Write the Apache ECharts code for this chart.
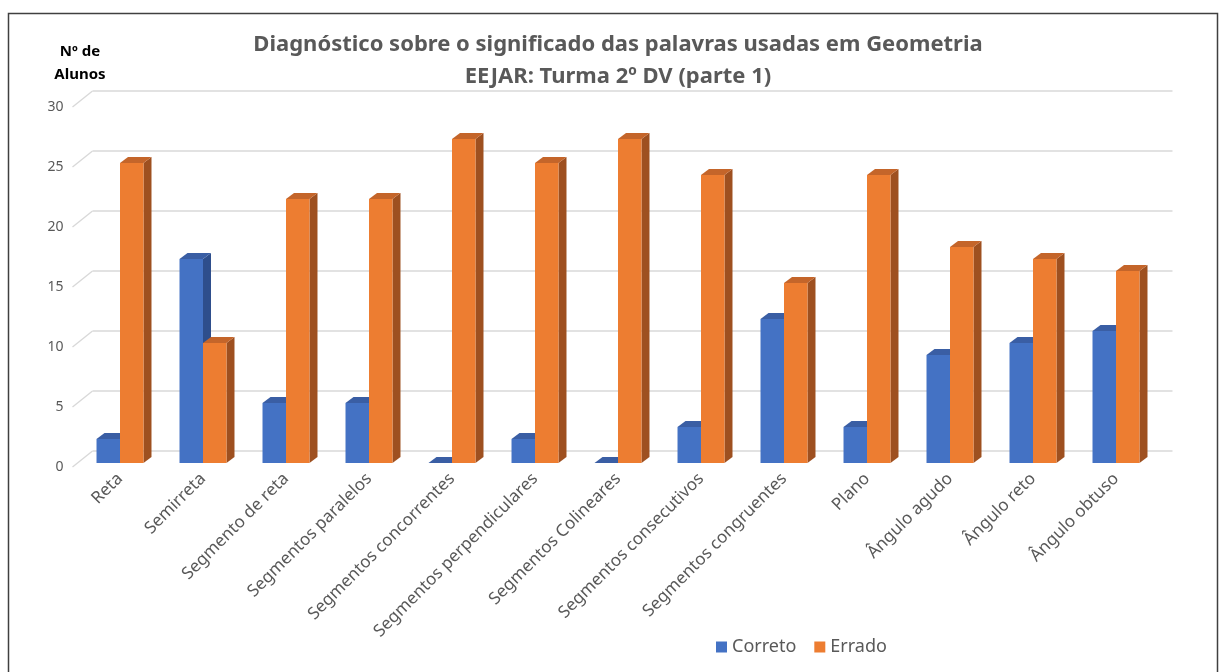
<!DOCTYPE html>
<html>
<head>
<meta charset="utf-8">
<script src="https://cdn.jsdelivr.net/npm/echarts@6/dist/echarts.min.js"></script>
<style>
html,body{margin:0;padding:0;background:#fff;}
#chart{width:1223px;height:672px;}
</style>
</head>
<body>
<div id="chart"></div>
<script>
var categories = ['Reta', 'Semirreta', 'Segmento de reta', 'Segmentos paralelos', 'Segmentos concorrentes', 'Segmentos perpendiculares', 'Segmentos Colineares', 'Segmentos consecutivos', 'Segmentos congruentes', 'Plano', 'Ângulo agudo', 'Ângulo reto', 'Ângulo obtuso'];
var correto = [2, 17, 5, 5, 0, 2, 0, 3, 12, 3, 9, 10, 11];
var errado = [25, 10, 22, 22, 27, 25, 27, 24, 15, 24, 18, 17, 16];
var yTicks = [0, 5, 10, 15, 20, 25, 30];

var FONT = '"Noto Sans", "Open Sans", sans-serif';
var DX = 8, DY = -6;       // bar depth
var WDX = 20, WDY = -16;   // wall depth
var BAR_FRAC = 0.283;

function barRender(colors, offsetSide) {
  return function (params, api) {
    var idx = api.value(0), v = api.value(1);
    var base = api.coord([idx, 0]);
    var top = api.coord([idx, v]);
    var bw = api.size([1, 0])[0] * BAR_FRAC;
    var x0 = offsetSide < 0 ? base[0] - bw : base[0];
    var yb = base[1], yt = top[1];
    return {
      type: 'group',
      children: [
        { type: 'polygon', shape: { points: [[x0 + bw, yt], [x0 + bw + DX, yt + DY], [x0 + bw + DX, yb + DY], [x0 + bw, yb]] }, style: { fill: colors[1] } },
        { type: 'polygon', shape: { points: [[x0, yt], [x0 + DX, yt + DY], [x0 + bw + DX, yt + DY], [x0 + bw, yt]] }, style: { fill: colors[2] } },
        { type: 'rect', shape: { x: x0, y: yt, width: bw, height: yb - yt }, style: { fill: colors[0] } }
      ]
    };
  };
}

function gridRender(params, api) {
  var v = api.value(1);
  var p = api.coord([0, v]);
  var cs = params.coordSys;
  var y = p[1];
  var xf = cs.x - 6;
  return {
    type: 'group',
    children: [
      { type: 'line', shape: { x1: xf, y1: y + 4, x2: xf + WDX, y2: y + 4 + WDY }, style: { stroke: '#d9d9d9', lineWidth: 1.5 } },
      { type: 'line', shape: { x1: xf + WDX, y1: y + 4 + WDY, x2: cs.x + cs.width + 15, y2: y + 4 + WDY }, style: { stroke: '#d9d9d9', lineWidth: 1.5 } }
    ]
  };
}

var chart = echarts.init(document.getElementById('chart'), null, { renderer: 'canvas' });
chart.setOption({
  backgroundColor: '#fff',
  animation: false,
  title: [
    { text: 'Diagnóstico sobre o significado das palavras usadas em Geometria\nEEJAR: Turma 2º DV (parte 1)', left: 613, top: 24, textAlign: 'center',
      textStyle: { fontFamily: FONT, fontSize: 22, fontWeight: 'bold', color: '#595959', lineHeight: 32 } },
    { text: 'Nº de\nAlunos', left: 75, top: 35, textAlign: 'center',
      textStyle: { fontFamily: FONT, fontSize: 15, fontWeight: 'bold', color: '#000', lineHeight: 23 } }
  ],
  graphic: [
    { type: 'rect', shape: { x: 8.5, y: 13.5, width: 1209, height: 700 }, style: { fill: 'none', stroke: '#404040', lineWidth: 1.5 }, z: -10 }
  ],
  legend: {
    left: 711, top: 633,
    itemWidth: 11, itemHeight: 11, itemGap: 18,
    icon: 'rect',
    textStyle: { fontFamily: FONT, fontSize: 18, color: '#595959' },
    data: ['Correto', 'Errado']
  },
  grid: { left: 78.5, top: 103, width: 1079, height: 360, containLabel: false },
  xAxis: {
    type: 'category',
    data: categories,
    axisLine: { show: false },
    axisTick: { show: false },
    splitLine: { show: false },
    axisLabel: { rotate: 45, interval: 0, margin: 13, fontFamily: FONT, fontSize: 17, color: '#595959' }
  },
  yAxis: {
    type: 'value', min: 0, max: 30, interval: 5,
    axisLine: { show: false }, axisTick: { show: false }, splitLine: { show: false },
    axisLabel: { margin: 15, verticalAlign: 'top', lineHeight: 8, fontFamily: FONT, fontSize: 14, color: '#595959' }
  },
  series: [
    { type: 'custom', name: 'grid', silent: true, z: 0, renderItem: gridRender, data: yTicks.map(function (v) { return [0, v]; }) },
    { type: 'custom', name: 'Correto', z: 2, itemStyle: { color: '#4472C4' },
      renderItem: barRender(['#4472C4', '#2E4E8C', '#3A5EA4'], -1),
      data: correto.map(function (v, i) { return [i, v]; }) },
    { type: 'custom', name: 'Errado', z: 3, itemStyle: { color: '#ED7D31' },
      renderItem: barRender(['#ED7D31', '#9E5020', '#C4652A'], 1),
      data: errado.map(function (v, i) { return [i, v]; }) }
  ]
});
</script>
</body>
</html>
